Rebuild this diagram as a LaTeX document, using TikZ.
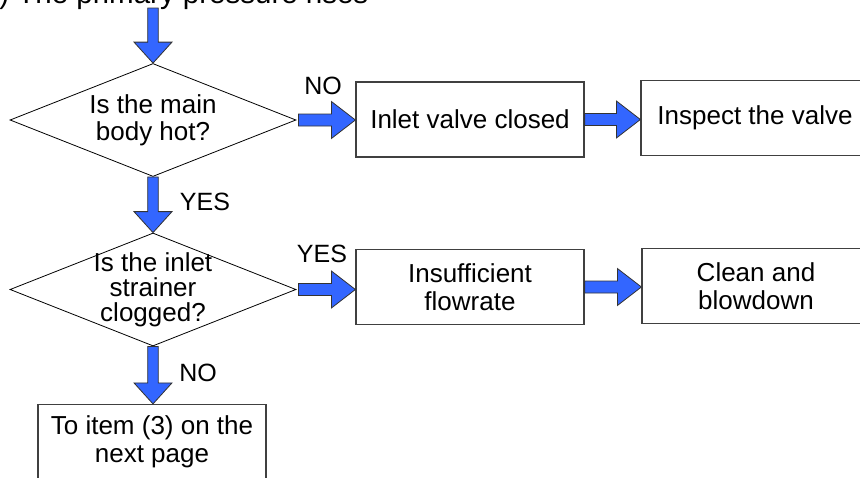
\documentclass[tikz,border=0pt]{standalone}
\usepackage{fontspec}
\setmainfont{Liberation Sans}
\usetikzlibrary{shapes,calc}
\usetikzlibrary{positioning}
\definecolor{flowblue}{RGB}{51,102,255}
\tikzstyle{proc}=[draw=black!75,line width=1.2pt,minimum width=228pt,
                minimum height=75pt,inner sep=0pt,align=center,
                font=\fontsize{26}{28}\selectfont]
\tikzstyle{decision}=[diamond,draw,line width=0.8pt,minimum width=286pt,
                minimum height=113pt,inner sep=0pt]
\tikzstyle{qtext}=[align=center,font=\fontsize{26}{27}\selectfont]
\tikzstyle{answer}=[font=\fontsize{25}{25}\selectfont]
\tikzstyle{heading}=[font=\fontsize{29.5}{30}\selectfont,inner sep=0pt]
\tikzstyle{blk}=[fill=flowblue,draw=black!80,line width=0.8pt]
\newcommand{\downblk}[2]{\filldraw[blk] let \p1=(#1), \p2=(#2) in
  (\x1-5.3pt,\y1) -- (\x1+5.3pt,\y1) -- (\x1+5.3pt,\y2+21pt) --
  (\x1+19pt,\y2+21pt) -- (\x1,\y2) -- (\x1-19pt,\y2+21pt) --
  (\x1-5.3pt,\y2+21pt) -- cycle;}
\newcommand{\rightblk}[2]{\filldraw[blk] let \p1=(#1), \p2=(#2) in
  (\x1,\y1+6pt) -- (\x2-24pt,\y1+6pt) -- (\x2-24pt,\y1+18.5pt) --
  (\x2,\y1) -- (\x2-24pt,\y1-18.5pt) -- (\x2-24pt,\y1-6pt) --
  (\x1,\y1-6pt) -- cycle;}

\begin{document}
\begin{tikzpicture}[x=1pt,y=-1pt]
\useasboundingbox (0,0) rectangle (860,477);
\node[heading,anchor=base west] (title) at (-27,3) {(2) The primary pressure rises};
\coordinate (start) at (153,8);
% questions
\node[decision,label={[qtext]center:Is the main\\body hot?}] (q1) at (153,120) {};
\node[decision,label={[qtext,font=\fontsize{26}{25}\selectfont]center:Is the inlet\\strainer\\clogged?}] (q2) at (153,289.5) {};
% actions
\node[proc] (closed) at (470,119.5) {Inlet valve closed};
\node[proc] (inspect) at (755,118) {Inspect the valve};
\node[proc] (flow) at (470,287) {Insufficient\\flowrate};
\node[proc] (clean) at (756,286) {Clean and\\blowdown};
\node[proc] (next) at (152,442) {To item (3) on the\\next page};
% arrows
\downblk{start}{q1.north}
\downblk{q1.south}{q2.north}
\downblk{q2.south}{next.north}
\rightblk{$(q1.east)+(2,0)$}{closed.west}
\rightblk{closed.east}{inspect.west}
\rightblk{$(q2.east)+(2,0)$}{flow.west}
\rightblk{flow.east}{clean.west}
% answers
\node[answer] (no1) at (323,86) {NO};
\node[answer] (yes1) at (205,202) {YES};
\node[answer] (yes2) at (322,254) {YES};
\node[answer] (no2) at (198,373) {NO};
\end{tikzpicture}
\end{document}
